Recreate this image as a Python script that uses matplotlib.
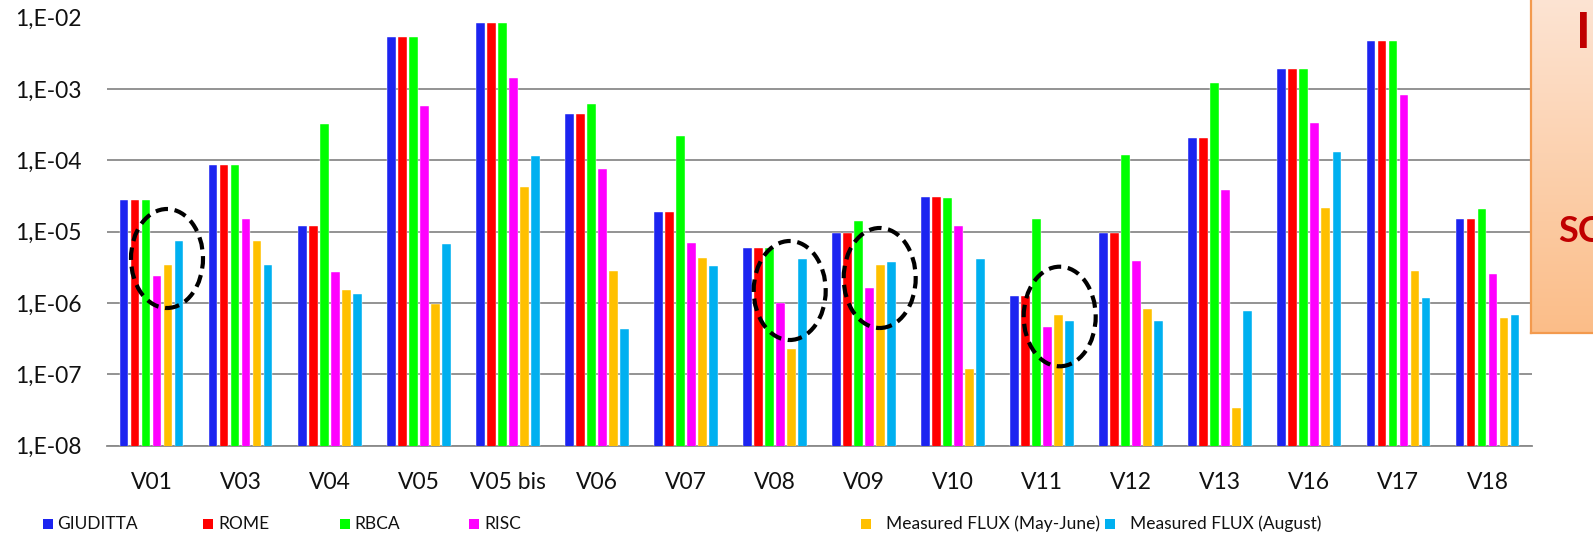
import numpy as np
import matplotlib
matplotlib.use("Agg")
import matplotlib.pyplot as plt
from matplotlib.patches import Ellipse, Rectangle
from matplotlib.colors import LinearSegmentedColormap
from matplotlib import font_manager

# ---------------- data ----------------
categories = ["V01", "V03", "V04", "V05", "V05 bis", "V06", "V07", "V08",
              "V09", "V10", "V11", "V12", "V13", "V16", "V17", "V18"]
series_names = ["GIUDITTA", "ROME", "RBCA", "RISC",
                "Measured FLUX (May-June)", "Measured FLUX (August)"]
giuditta = [2.78e-5, 8.6e-5, 1.19e-5, 5.28e-3, 8.3e-3, 4.45e-4, 1.89e-5, 5.97e-6,
            9.7e-6, 3.06e-5, 1.26e-6, 9.7e-6, 2.03e-4, 1.88e-3, 4.69e-3, 1.51e-5]
rome = [2.78e-5, 8.6e-5, 1.19e-5, 5.28e-3, 8.3e-3, 4.45e-4, 1.89e-5, 5.97e-6,
        9.7e-6, 3.06e-5, 1.26e-6, 9.7e-6, 2.03e-4, 1.88e-3, 4.69e-3, 1.51e-5]
rbca = [2.78e-5, 8.6e-5, 3.19e-4, 5.28e-3, 8.3e-3, 6.15e-4, 2.19e-4, 5.97e-6,
        1.4e-5, 3.0e-5, 1.51e-5, 1.19e-4, 1.2e-3, 1.88e-3, 4.69e-3, 2.08e-5]
risc = [2.42e-6, 1.51e-5, 2.73e-6, 5.7e-4, 1.41e-3, 7.55e-5, 6.87e-6, 1.01e-6,
        1.61e-6, 1.2e-5, 4.63e-7, 3.93e-6, 3.87e-5, 3.3e-4, 8.13e-4, 2.53e-6]
flux_may_june = [3.42e-6, 7.3e-6, 1.52e-6, 9.7e-7, 4.27e-5, 2.81e-6, 4.28e-6, 2.25e-7,
                 3.45e-6, 1.19e-7, 6.8e-7, 8.2e-7, 3.4e-8, 2.12e-5, 2.8e-6, 6.1e-7]
flux_august = [7.34e-6, 3.42e-6, 1.33e-6, 6.8e-6, 1.16e-4, 4.33e-7, 3.31e-6, 4.1e-6,
               3.8e-6, 4.1e-6, 5.6e-7, 5.6e-7, 7.6e-7, 1.29e-4, 1.18e-6, 6.7e-7]
ytick_values = [1e-8, 1e-7, 1e-6, 1e-5, 1e-4, 1e-3, 1e-2]
ytick_labels = ["1,E-08", "1,E-07", "1,E-06", "1,E-05", "1,E-04", "1,E-03", "1,E-02"]

colors = ["#1c24f0", "#ff0000", "#00ff00", "#ff00ff", "#ffc000", "#00b0f0"]
all_series = [giuditta, rome, rbca, risc, flux_may_june, flux_august]

# ---------------- fonts ----------------
available = {f.name for f in font_manager.fontManager.ttflist}
narrow = "Liberation Sans Narrow" if "Liberation Sans Narrow" in available else None

# ---------------- figure ----------------
W, H = 1593, 547
plt.rcParams['font.family'] = ['Lato', 'DejaVu Sans']
fig = plt.figure(figsize=(W / 100, H / 100), dpi=100)
fig.patch.set_facecolor("white")

def fx(px):
    return px / W

def fy(py):
    return 1 - py / H

ax_l, ax_r, ax_t, ax_b = 107, 1532, 17.5, 445.7
ax = fig.add_axes([fx(ax_l), fy(ax_b), fx(ax_r - ax_l), (ax_b - ax_t) / H])
ax.set_yscale("log")

x = np.arange(len(categories))
pitch = 0.1236
bw = 0.098
for i, (vals, col, name) in enumerate(zip(all_series, colors, series_names)):
    ax.bar(x + (i - 2.5) * pitch, vals, width=bw, color=col,
           edgecolor="white", linewidth=0.3, label=name, zorder=3)

ax.set_ylim(1e-8, 1e-2)
ax.set_xlim(-0.5, len(categories) - 0.5)
ax.set_yticks(ytick_values)
ax.set_yticklabels(ytick_labels)
ax.yaxis.set_minor_locator(matplotlib.ticker.NullLocator())
ax.set_xticks(x)
ax.set_xticklabels(categories)
ax.tick_params(axis="y", length=0, pad=18, labelsize=16.5, labelcolor="#111111")
ax.tick_params(axis="x", length=0, pad=19, labelsize=16.5, labelcolor="#111111")
ax.grid(axis="y", which="major", color="#8a8a8a", linewidth=1.3, zorder=0)
ax.set_axisbelow(True)
for s in ["left", "right", "top"]:
    ax.spines[s].set_visible(False)
ax.spines["bottom"].set_color("#8a8a8a")
ax.spines["bottom"].set_linewidth(1.3)

# ---------------- dashed ellipses (annotations) ----------------
ellipses_px = [(167, 258.5, 72, 99), (789.7, 290.5, 72, 99),
               (879.7, 278, 72, 100), (1059.7, 316.5, 72, 99.6)]
for cx, cy, ew, eh in ellipses_px:
    e = Ellipse((fx(cx), fy(cy)), ew / W, eh / H, transform=fig.transFigure,
                fill=False, edgecolor="black", linewidth=3.0,
                linestyle=(0, (3.0, 1.6)), zorder=10)
    fig.patches.append(e)

# ---------------- legend ----------------
leg_sq_x = [43, 203, 340, 469, 861, 1105]
leg_tx_x = [57, 218, 354, 484, 886, 1130]
leg_y = 524
if narrow:
    leg_family = [narrow, 'Lato', 'DejaVu Sans']
    leg_size = 15
else:
    leg_family = ['Lato', 'DejaVu Sans']
    leg_size = 12.5
for name, col, sx, tx in zip(series_names, colors, leg_sq_x, leg_tx_x):
    fig.patches.append(Rectangle((fx(sx), fy(leg_y + 5)), 10 / W, 10 / H,
                                 transform=fig.transFigure, facecolor=col,
                                 edgecolor="none"))
    fig.text(fx(tx), fy(leg_y), name, fontsize=leg_size, family=leg_family,
             va="center", ha="left", color="#111111")

# ---------------- clipped title ----------------
fig.text(fx(1186), fy(-8), "(      )", fontsize=26, fontweight="bold",
         ha="center", va="baseline", color="black")

# ---------------- orange side box ----------------
bx = fig.add_axes([fx(1531), fy(333), 0.1, 333 / H + 0.05])
grad = np.linspace(0, 1, 256).reshape(-1, 1)
cmap = LinearSegmentedColormap.from_list("pe", ["#fbbd88", "#fde7d9"])
bx.imshow(grad, aspect="auto", cmap=cmap, origin="lower", extent=[0, 1, 0, 1])
bx.set_xticks([])
bx.set_yticks([])
for s in ["top", "right"]:
    bx.spines[s].set_visible(False)
for s in ["left", "bottom"]:
    bx.spines[s].set_color("#f39a4e")
    bx.spines[s].set_linewidth(1.6)
fig.text(fx(1583), fy(34), "I", fontsize=36, fontweight="bold", color="#c00000",
         ha="center", va="center")
fig.text(fx(1558), fy(231), "SC", fontsize=26, fontweight="bold", color="#c00000",
         ha="left", va="center")

fig.savefig("out.png", dpi=100)
